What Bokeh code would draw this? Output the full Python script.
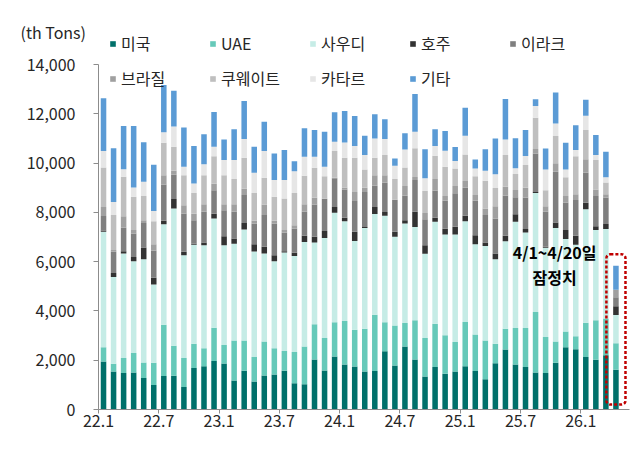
from bokeh.plotting import figure
from bokeh.models import (ColumnDataSource, Range1d, FixedTicker, NumeralTickFormatter,
                          Label, BoxAnnotation, Title)
from bokeh.embed import file_html
from bokeh.resources import INLINE

months = [f"{y}.{m}" for y in range(22, 26) for m in range(1, 13)] + ["26.1", "26.2", "26.3", "26.4"]
series = ["미국", "UAE", "사우디", "호주", "이라크", "브라질", "쿠웨이트", "카타르", "기타"]
colors = ["#00706A", "#66C9B9", "#C6ECE6", "#333333", "#7F7F7F", "#A0A0A0", "#BFBFBF", "#E6E6E6", "#5B9BD5"]

usa = [1950, 1545, 1477, 1504, 1274, 990, 1355, 1370, 910, 1680, 1760, 1965, 1870, 1180, 1570, 1140, 1380,
       1420, 1570, 1070, 1020, 2030, 1585, 2150, 1830, 1750, 1545, 1560, 2360, 1790, 2560, 2030, 1340,
       1720, 1450, 1545, 1760, 1560, 1230, 1880, 2430, 1830, 1720, 1500, 1480, 1900, 2530, 2450, 2130,
       2020, 2200, 1610]
uae = [580, 311, 610, 786, 637, 910, 2085, 1220, 1180, 990, 730, 1355, 750, 1620, 1230, 990, 1380,
       1070, 800, 1260, 1540, 1430, 1315, 1390, 1760, 1490, 1735, 2290, 1180, 1620, 950, 1590, 1560,
       1760, 1560, 1195, 1790, 1480, 1570, 790, 850, 1480, 1590, 2460, 1460, 860, 640, 520, 1390,
       1600, 1490, 1080]
saudi = [4680, 3524, 4240, 3726, 4189, 3170, 4080, 5570, 4170, 4020, 4180, 4430, 4050, 3930, 4500, 4280, 3570,
         3530, 4000, 3900, 4240, 3320, 4060, 4440, 4050, 3600, 4090, 4080, 4320, 3600, 4040, 3790, 3420,
         4140, 4090, 4365, 4090, 3670, 3840, 3430, 3550, 4310, 3870, 4830, 3620, 4610, 3750, 3720, 4610,
         3660, 3640, 1150]
australia = [50, 160, 95, 174, 470, 280, 140, 380, 140, 40, 110, 190, 360, 210, 270, 300, 270,
             240, 50, 130, 250, 230, 280, 240, 140, 370, 40, 290, 150, 200, 130, 610, 350,
             160, 240, 310, 220, 360, 140, 230, 220, 300, 140, 40, 40, 220, 360, 360, 260,
             160, 200, 350]
iraq = [590, 860, 950, 950, 1000, 1090, 1470, 990, 1550, 950, 1240, 960, 1060, 1080, 1130, 840, 1290,
        1290, 750, 980, 970, 1310, 1300, 1160, 1150, 1250, 1420, 860, 1190, 1290, 990, 1290, 1050,
        1100, 1130, 1360, 1140, 1400, 1110, 1420, 1620, 690, 1280, 1560, 1420, 2060, 1120, 1450, 1220,
        1220, 1070, 370]
brazil = [370, 70, 475, 140, 110, 270, 380, 160, 340, 260, 310, 260, 240, 310, 260, 110, 430,
          110, 110, 140, 310, 270, 20, 20, 80, 370, 170, 430, 310, 20, 400, 130, 250,
          470, 190, 300, 270, 230, 270, 500, 370, 300, 400, 180, 230, 340, 260, 240, 550,
          270, 140, 300]
kuwait = [1600, 1420, 1600, 1350, 980, 930, 1320, 970, 1220, 850, 1180, 1120, 1180, 1020, 1260, 1130, 1080,
          970, 1280, 1310, 1160, 1220, 910, 1090, 1210, 1390, 740, 710, 820, 830, 750, 1160, 900,
          950, 1190, 710, 1080, 770, 1120, 740, 1290, 650, 920, 1270, 650, 1110, 760, 1540, 1180,
          1190, 470, 0]
qatar = [670, 530, 300, 380, 580, 420, 420, 820, 340, 380, 440, 380, 610, 770, 760, 820, 1090,
         680, 750, 880, 770, 450, 380, 380, 620, 470, 590, 780, 650, 540, 730, 670, 510,
         390, 650, 300, 760, 310, 410, 560, 630, 230, 370, 480, 840, 510, 320, 250, 580,
         210, 210, 0]
others = [2140, 2180, 1760, 2490, 1610, 1870, 1920, 1460, 1590, 1520, 1220, 1410, 840, 1250, 1540, 1050, 1190,
          1080, 1220, 400, 1150, 1080, 1420, 1190, 1270, 1220, 780, 980, 800, 300, 660, 1530, 1180,
          680, 800, 570, 1140, 370, 870, 1450, 1640, 1220, 1050, 270, 850, 1250, 1090, 1010, 650,
          810, 1040, 970]

y_ticks = [0, 2000, 4000, 6000, 8000, 10000, 12000, 14000]
y_max = 14000
x_tick_every = 6
note_lines = ["4/1~4/20일", "잠정치"]
unit_label = "(th Tons)"

FONT = "Noto Sans CJK KR"
TXT = "#262626"

data = {"x": [i + 0.5 for i in range(len(months))]}
for name, vals in zip(series, [usa, uae, saudi, australia, iraq, brazil, kuwait, qatar, others]):
    data[name] = vals
source = ColumnDataSource(data)

# frame: x 98..629, y 22..409 ; 14,000 sits at y=64
p = figure(width=636, height=442, output_backend="svg", toolbar_location=None,
           x_range=Range1d(0, 52.85), y_range=Range1d(0, 15705),
           min_border_left=98, min_border_right=7, min_border_top=22, min_border_bottom=33)
p.outline_line_color = None
p.xgrid.visible = False
p.ygrid.visible = False

p.vbar_stack(series, x="x", width=0.55, color=colors, source=source, line_color=None,
             legend_label=series)

# y axis
p.yaxis.ticker = FixedTicker(ticks=y_ticks)
p.yaxis.bounds = (0, y_max)
p.yaxis.formatter = NumeralTickFormatter(format="0,0")
p.yaxis.major_label_text_font = FONT
p.yaxis.major_label_text_font_size = "16px"
p.yaxis.major_label_text_color = TXT
p.yaxis.major_label_standoff = 18
p.yaxis.axis_line_color = "#8C8C8C"
p.yaxis.major_tick_line_color = "#8C8C8C"
p.yaxis.major_tick_out = 5
p.yaxis.major_tick_in = 0
p.yaxis.minor_tick_line_color = None

# x axis
ticks = list(range(0, len(months), x_tick_every))
p.xaxis.ticker = FixedTicker(ticks=ticks)
p.xaxis.major_label_overrides = {t: months[t] for t in ticks}
p.xaxis.major_label_text_font = FONT
p.xaxis.major_label_text_font_size = "16px"
p.xaxis.major_label_text_color = TXT
p.xaxis.major_label_standoff = 1
p.xaxis.axis_line_color = "#8C8C8C"
p.xaxis.major_tick_line_color = "#8C8C8C"
p.xaxis.major_tick_out = 4
p.xaxis.major_tick_in = 0
p.xaxis.minor_tick_line_color = None

# legend
lg = p.legend[0]
lg.orientation = "horizontal"
lg.ncols = 5
lg.location = (11, 319)
lg.label_text_font = FONT
lg.label_text_font_size = "16px"
lg.label_text_color = TXT
lg.glyph_width = 7
lg.glyph_height = 7
lg.label_standoff = 5
lg.label_width = 77
lg.label_height = 20
lg.spacing = 11
lg.padding = 0
lg.margin = 0
lg.background_fill_alpha = 0
lg.border_line_alpha = 0

# unit label as a title above the frame, shifted left over the tick labels
p.add_layout(Title(text=unit_label, align="left", offset=-78, standoff=-43,
                   text_font=FONT, text_font_size="16px", text_font_style="normal",
                   text_color=TXT), "above")

# note
p.add_layout(Label(x=45.4, y=6400, text=note_lines[0], text_font=FONT, text_font_size="16px",
                   text_font_style="bold", text_color="#000000", text_align="center", text_baseline="middle"))
p.add_layout(Label(x=45.4, y=5380, text=note_lines[1], text_font=FONT, text_font_size="16px",
                   text_font_style="bold", text_color="#000000", text_align="center", text_baseline="middle"))

p.add_layout(BoxAnnotation(left=50.55, right=52.45, bottom=200, top=6300,
                           fill_alpha=0, line_color="#C00000", line_alpha=1, line_width=2.5,
                           line_dash="3 2", border_radius=4))

open("out.html", "w").write(file_html(p, INLINE))
